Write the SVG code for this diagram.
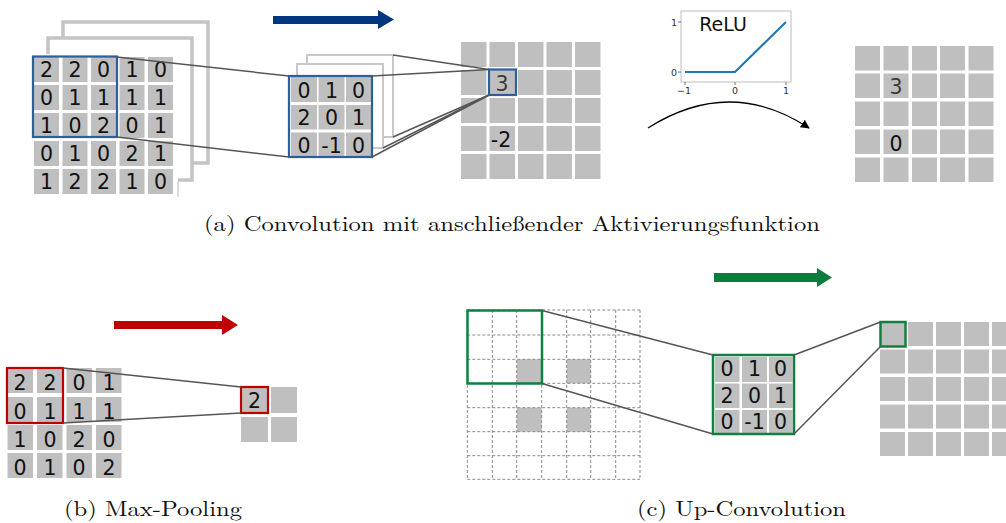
<svg xmlns="http://www.w3.org/2000/svg" width="1006" height="523" viewBox="0 0 1006 523">
  <style>
    .cell { fill: #bfbfbf; }
    .frame { fill: #ffffff; stroke: #c4c4c4; stroke-width: 3.5; }
    .kframe { fill: #ffffff; stroke: #c8c8c8; stroke-width: 2; }
    .num { font-family: "DejaVu Sans", Verdana, sans-serif; font-size: 20.5px; fill: #111; text-anchor: middle; }
    .dim { fill: #3a3a3a; }
    .conn { stroke: #555; stroke-width: 1.5; fill: none; }
    .blue { fill: none; stroke: #2f5e9e; stroke-width: 2.2; }
    .red { fill: none; stroke: #c00000; stroke-width: 2.2; }
    .green { fill: none; stroke: #108040; stroke-width: 2.5; }
    .dash { stroke: #8a8a8a; stroke-width: 1; stroke-dasharray: 3 2; fill: none; }
    .cap { font-family: "Latin Modern Roman", "Liberation Serif", serif; font-size: 21px; fill: #111; }
    .tick { font-family: "DejaVu Sans", sans-serif; font-size: 9.5px; fill: #333; text-anchor: middle; }
  </style>
  <defs>
    <marker id="tip" viewBox="0 0 10 10" refX="9" refY="5" markerWidth="9" markerHeight="9" markerUnits="userSpaceOnUse" orient="auto">
      <path d="M0,0 L10,5 L0,10 z" fill="#000"/>
    </marker>
  </defs>

  <!-- (a) input volume with two channels behind -->
  <g id="input-volume">
    <rect class="frame" x="63" y="22" width="145" height="141"/>
    <rect class="frame" x="48" y="38" width="144" height="142"/>
    <rect x="26" y="54" width="152" height="146" fill="#fff"/>
    <line x1="178" y1="181" x2="178" y2="197" stroke="#d0d0d0" stroke-width="1.5"/>
    <g>
      <rect class="cell" x="34" y="57" width="25" height="25"/><rect class="cell" x="62.5" y="57" width="25" height="25"/><rect class="cell" x="91" y="57" width="25" height="25"/><rect class="cell" x="119.5" y="57" width="25" height="25"/><rect class="cell" x="148" y="57" width="25" height="25"/>
      <rect class="cell" x="34" y="85" width="25" height="25"/><rect class="cell" x="62.5" y="85" width="25" height="25"/><rect class="cell" x="91" y="85" width="25" height="25"/><rect class="cell" x="119.5" y="85" width="25" height="25"/><rect class="cell" x="148" y="85" width="25" height="25"/>
      <rect class="cell" x="34" y="113" width="25" height="25"/><rect class="cell" x="62.5" y="113" width="25" height="25"/><rect class="cell" x="91" y="113" width="25" height="25"/><rect class="cell" x="119.5" y="113" width="25" height="25"/><rect class="cell" x="148" y="113" width="25" height="25"/>
      <rect class="cell" x="34" y="141" width="25" height="25"/><rect class="cell" x="62.5" y="141" width="25" height="25"/><rect class="cell" x="91" y="141" width="25" height="25"/><rect class="cell" x="119.5" y="141" width="25" height="25"/><rect class="cell" x="148" y="141" width="25" height="25"/>
      <rect class="cell" x="34" y="169" width="25" height="25"/><rect class="cell" x="62.5" y="169" width="25" height="25"/><rect class="cell" x="91" y="169" width="25" height="25"/><rect class="cell" x="119.5" y="169" width="25" height="25"/><rect class="cell" x="148" y="169" width="25" height="25"/>
    </g>
    <g class="num">
      <text x="46.5" y="77">2</text><text x="75" y="77">2</text><text x="103.5" y="77">0</text><text x="132" y="77">1</text><text x="160.5" y="77">0</text>
      <text x="46.5" y="105">0</text><text x="75" y="105">1</text><text x="103.5" y="105">1</text><text x="132" y="105">1</text><text x="160.5" y="105">1</text>
      <text x="46.5" y="133">1</text><text x="75" y="133">0</text><text x="103.5" y="133">2</text><text x="132" y="133">0</text><text x="160.5" y="133">1</text>
      <text x="46.5" y="161">0</text><text x="75" y="161">1</text><text x="103.5" y="161">0</text><text x="132" y="161">2</text><text x="160.5" y="161">1</text>
      <text x="46.5" y="189">1</text><text x="75" y="189">2</text><text x="103.5" y="189">2</text><text x="132" y="189">1</text><text x="160.5" y="189">0</text>
    </g>
    <rect class="blue" x="33" y="56.5" width="84" height="80.5"/>
  </g>

  <!-- (a) kernel stack -->
  <g id="conv-kernel">
    <rect class="kframe" x="307" y="55" width="86" height="82"/>
    <rect class="kframe" x="297" y="64" width="86" height="84"/>
    <rect x="289" y="76" width="83" height="81" fill="#fff"/>
    <rect class="cell" x="291" y="77" width="26" height="25"/><rect class="cell" x="318.5" y="77" width="26" height="25"/><rect class="cell" x="346" y="77" width="25" height="25"/>
    <rect class="cell" x="291" y="105" width="26" height="24.5"/><rect class="cell" x="318.5" y="105" width="26" height="24.5"/><rect class="cell" x="346" y="105" width="25" height="24.5"/>
    <rect class="cell" x="291" y="132.5" width="26" height="24.5"/><rect class="cell" x="318.5" y="132.5" width="26" height="24.5"/><rect class="cell" x="346" y="132.5" width="25" height="24.5"/>
    <g class="num">
      <text x="304" y="97.5">0</text><text x="331.5" y="97.5">1</text><text x="358.5" y="97.5">0</text>
      <text x="304" y="125">2</text><text x="331.5" y="125">0</text><text x="358.5" y="125">1</text>
      <text x="304" y="153">0</text><text x="331.5" y="153">-1</text><text x="358.5" y="153">0</text>
    </g>
    <rect class="blue" x="289" y="76" width="83" height="81"/>
  </g>

  <!-- (a) feature map -->
  <g id="feature-map">
    <rect class="cell" x="461" y="42" width="25.5" height="25"/><rect class="cell" x="489.5" y="42" width="25.5" height="25"/><rect class="cell" x="518" y="42" width="25.5" height="25"/><rect class="cell" x="546.5" y="42" width="25.5" height="25"/><rect class="cell" x="575" y="42" width="25.5" height="25"/>
    <rect class="cell" x="461" y="70" width="25.5" height="25"/><rect class="cell" x="489.5" y="70" width="25.5" height="25"/><rect class="cell" x="518" y="70" width="25.5" height="25"/><rect class="cell" x="546.5" y="70" width="25.5" height="25"/><rect class="cell" x="575" y="70" width="25.5" height="25"/>
    <rect class="cell" x="461" y="98" width="25.5" height="25"/><rect class="cell" x="489.5" y="98" width="25.5" height="25"/><rect class="cell" x="518" y="98" width="25.5" height="25"/><rect class="cell" x="546.5" y="98" width="25.5" height="25"/><rect class="cell" x="575" y="98" width="25.5" height="25"/>
    <rect class="cell" x="461" y="126" width="25.5" height="25"/><rect class="cell" x="489.5" y="126" width="25.5" height="25"/><rect class="cell" x="518" y="126" width="25.5" height="25"/><rect class="cell" x="546.5" y="126" width="25.5" height="25"/><rect class="cell" x="575" y="126" width="25.5" height="25"/>
    <rect class="cell" x="461" y="154" width="25.5" height="25"/><rect class="cell" x="489.5" y="154" width="25.5" height="25"/><rect class="cell" x="518" y="154" width="25.5" height="25"/><rect class="cell" x="546.5" y="154" width="25.5" height="25"/><rect class="cell" x="575" y="154" width="25.5" height="25"/>
    <text class="num dim" x="502" y="91">3</text>
    <text class="num" x="501" y="147">-2</text>
    <rect class="blue" x="489" y="69.5" width="27" height="25.5"/>
  </g>

  <!-- (a) ReLU plot -->
  <g id="relu-plot">
    <rect x="681" y="11" width="110" height="71" fill="#fff" stroke="#bdbdbd" stroke-width="1"/>
    <text x="723" y="31" font-family="'DejaVu Sans', sans-serif" font-size="19" text-anchor="middle" fill="#111">ReLU</text>
    <polyline points="685,72 735,72 786,22" fill="none" stroke="#1f77b4" stroke-width="2.2"/>
    <g stroke="#555" stroke-width="0.8">
      <line x1="678" y1="22" x2="681" y2="22"/><line x1="678" y1="72" x2="681" y2="72"/>
      <line x1="685" y1="82" x2="685" y2="85"/><line x1="735" y1="82" x2="735" y2="85"/><line x1="786" y1="82" x2="786" y2="85"/>
    </g>
    <text class="tick" x="674" y="26">1</text>
    <text class="tick" x="674" y="76">0</text>
    <text class="tick" x="684" y="94">−1</text>
    <text class="tick" x="735" y="94">0</text>
    <text class="tick" x="786" y="94">1</text>
  </g>

  <!-- (a) activated map -->
  <g id="activated-map">
    <rect class="cell" x="855" y="46" width="25" height="24.5"/><rect class="cell" x="883.5" y="46" width="25" height="24.5"/><rect class="cell" x="912" y="46" width="25" height="24.5"/><rect class="cell" x="940" y="46" width="25" height="24.5"/><rect class="cell" x="968.5" y="46" width="25" height="24.5"/>
    <rect class="cell" x="855" y="73.5" width="25" height="24.5"/><rect class="cell" x="883.5" y="73.5" width="25" height="24.5"/><rect class="cell" x="912" y="73.5" width="25" height="24.5"/><rect class="cell" x="940" y="73.5" width="25" height="24.5"/><rect class="cell" x="968.5" y="73.5" width="25" height="24.5"/>
    <rect class="cell" x="855" y="101.5" width="25" height="24.5"/><rect class="cell" x="883.5" y="101.5" width="25" height="24.5"/><rect class="cell" x="912" y="101.5" width="25" height="24.5"/><rect class="cell" x="940" y="101.5" width="25" height="24.5"/><rect class="cell" x="968.5" y="101.5" width="25" height="24.5"/>
    <rect class="cell" x="855" y="129.5" width="25" height="24.5"/><rect class="cell" x="883.5" y="129.5" width="25" height="24.5"/><rect class="cell" x="912" y="129.5" width="25" height="24.5"/><rect class="cell" x="940" y="129.5" width="25" height="24.5"/><rect class="cell" x="968.5" y="129.5" width="25" height="24.5"/>
    <rect class="cell" x="855" y="157.5" width="25" height="24.5"/><rect class="cell" x="883.5" y="157.5" width="25" height="24.5"/><rect class="cell" x="912" y="157.5" width="25" height="24.5"/><rect class="cell" x="940" y="157.5" width="25" height="24.5"/><rect class="cell" x="968.5" y="157.5" width="25" height="24.5"/>
    <text class="num dim" x="896" y="94">3</text>
    <text class="num" x="896" y="150.5">0</text>
  </g>

  <!-- (b) pooling input -->
  <g id="pool-input">
    <rect class="cell" x="7.5" y="368" width="25.5" height="25"/><rect class="cell" x="37" y="368" width="25.5" height="25"/><rect class="cell" x="66.5" y="368" width="25.5" height="25"/><rect class="cell" x="96" y="368" width="25.5" height="25"/>
    <rect class="cell" x="7.5" y="397" width="25.5" height="25"/><rect class="cell" x="37" y="397" width="25.5" height="25"/><rect class="cell" x="66.5" y="397" width="25.5" height="25"/><rect class="cell" x="96" y="397" width="25.5" height="25"/>
    <rect class="cell" x="7.5" y="425" width="25.5" height="25"/><rect class="cell" x="37" y="425" width="25.5" height="25"/><rect class="cell" x="66.5" y="425" width="25.5" height="25"/><rect class="cell" x="96" y="425" width="25.5" height="25"/>
    <rect class="cell" x="7.5" y="453" width="25.5" height="25"/><rect class="cell" x="37" y="453" width="25.5" height="25"/><rect class="cell" x="66.5" y="453" width="25.5" height="25"/><rect class="cell" x="96" y="453" width="25.5" height="25"/>
    <g class="num">
      <text x="20" y="390">2</text><text x="50" y="390">2</text><text x="79" y="390">0</text><text x="109" y="390">1</text>
      <text x="20" y="419">0</text><text x="50" y="419">1</text><text x="79" y="419">1</text><text x="109" y="419">1</text>
      <text x="20" y="447">1</text><text x="50" y="447">0</text><text x="79" y="447">2</text><text x="109" y="447">0</text>
      <text x="20" y="475">0</text><text x="50" y="475">1</text><text x="79" y="475">0</text><text x="109" y="475">2</text>
    </g>
    <rect class="red" x="7" y="368" width="56" height="55"/>
  </g>

  <!-- (b) pooling output -->
  <g id="pool-output">
    <rect class="cell" x="241" y="387" width="27" height="26"/>
    <rect class="cell" x="271" y="387" width="26" height="26"/>
    <rect class="cell" x="241" y="417" width="27" height="25"/>
    <rect class="cell" x="271" y="417" width="26" height="25"/>
    <text class="num" x="254.5" y="408" font-size="16">2</text>
    <rect class="red" x="241" y="387" width="27" height="26"/>
  </g>

  <!-- (c) zero-padded, upsampled input -->
  <g id="upsampled-input">
    <rect class="cell" x="516.7" y="359.3" width="25" height="24"/>
    <rect class="cell" x="566.7" y="359.3" width="24" height="24"/>
    <rect class="cell" x="516.7" y="407.7" width="25" height="24"/>
    <rect class="cell" x="566.7" y="407.7" width="24" height="24"/>
    <path class="dash" d="M467.3,310V479.3M492.3,310V479.3M516.7,310V479.3M541.7,310V479.3M566.7,310V479.3M590.7,310V479.3M615.7,310V479.3M640,310V479.3
      M467.3,310H640M467.3,335H640M467.3,359.3H640M467.3,383.3H640M467.3,407.7H640M467.3,431.7H640M467.3,455.7H640M467.3,479.3H640"/>
    <rect class="green" x="467.5" y="310.5" width="74.5" height="73"/>
  </g>

  <!-- (c) kernel -->
  <g id="upconv-kernel">
    <rect x="713" y="355" width="81" height="79" fill="#fff"/>
    <rect class="cell" x="715" y="357" width="24.5" height="25"/><rect class="cell" x="742" y="357" width="25" height="25"/><rect class="cell" x="769" y="357" width="23.5" height="25"/>
    <rect class="cell" x="715" y="383.5" width="24.5" height="24.5"/><rect class="cell" x="742" y="383.5" width="25" height="24.5"/><rect class="cell" x="769" y="383.5" width="23.5" height="24.5"/>
    <rect class="cell" x="715" y="410" width="24.5" height="23"/><rect class="cell" x="742" y="410" width="25" height="23"/><rect class="cell" x="769" y="410" width="23.5" height="23"/>
    <g class="num">
      <text x="727" y="376">0</text><text x="754.5" y="376">1</text><text x="780.5" y="376">0</text>
      <text x="727" y="402.5">2</text><text x="754.5" y="402.5">0</text><text x="780.5" y="402.5">1</text>
      <text x="727" y="429">0</text><text x="754.5" y="429">-1</text><text x="780.5" y="429">0</text>
    </g>
    <rect class="green" x="713" y="355" width="81" height="79"/>
  </g>

  <!-- (c) output map -->
  <g id="upconv-output">
    <rect class="cell" x="880" y="322" width="25" height="24"/><rect class="cell" x="908" y="322" width="25" height="24"/><rect class="cell" x="936" y="322" width="25" height="24"/><rect class="cell" x="964" y="322" width="25" height="24"/><rect class="cell" x="992" y="322" width="25" height="24"/>
    <rect class="cell" x="880" y="349.5" width="25" height="24"/><rect class="cell" x="908" y="349.5" width="25" height="24"/><rect class="cell" x="936" y="349.5" width="25" height="24"/><rect class="cell" x="964" y="349.5" width="25" height="24"/><rect class="cell" x="992" y="349.5" width="25" height="24"/>
    <rect class="cell" x="880" y="377" width="25" height="24"/><rect class="cell" x="908" y="377" width="25" height="24"/><rect class="cell" x="936" y="377" width="25" height="24"/><rect class="cell" x="964" y="377" width="25" height="24"/><rect class="cell" x="992" y="377" width="25" height="24"/>
    <rect class="cell" x="880" y="404.5" width="25" height="24"/><rect class="cell" x="908" y="404.5" width="25" height="24"/><rect class="cell" x="936" y="404.5" width="25" height="24"/><rect class="cell" x="964" y="404.5" width="25" height="24"/><rect class="cell" x="992" y="404.5" width="25" height="24"/>
    <rect class="cell" x="880" y="432" width="25" height="24"/><rect class="cell" x="908" y="432" width="25" height="24"/><rect class="cell" x="936" y="432" width="25" height="24"/><rect class="cell" x="964" y="432" width="25" height="24"/><rect class="cell" x="992" y="432" width="25" height="24"/>
    <rect class="green" x="880.5" y="322" width="25" height="24.5"/>
  </g>

  <!-- connectors and direction arrows -->
  <g id="connectors">
    <line class="conn" x1="117" y1="57" x2="289" y2="76"/>
    <line class="conn" x1="117" y1="137" x2="289" y2="157"/>
    <line class="conn" x1="372" y1="76" x2="489" y2="69.5"/>
    <line class="conn" x1="393" y1="55" x2="489" y2="69.5"/>
    <line class="conn" x1="372" y1="157" x2="489" y2="95"/>
    <line class="conn" x1="383" y1="148" x2="489" y2="95"/>
    <line class="conn" x1="393" y1="137" x2="489" y2="95"/>
    <path d="M648,128 Q730,76 809,128" fill="none" stroke="#000" stroke-width="1.3" marker-end="url(#tip)"/>
    <line class="conn" x1="63" y1="368" x2="241" y2="387"/>
    <line class="conn" x1="63" y1="423" x2="241" y2="413"/>
    <line class="conn" x1="542" y1="310.5" x2="713" y2="355"/>
    <line class="conn" x1="542" y1="383.5" x2="713" y2="434"/>
    <line class="conn" x1="794" y1="355" x2="880.5" y2="322"/>
    <line class="conn" x1="794" y1="434" x2="880.5" y2="346.5"/>
    <path d="M273,16 H378 V10 L394,19.5 L378,29 V24 H273 z" fill="#00367f"/>
    <path d="M114,321 H222 V315 L238,325 L222,335 V329 H114 z" fill="#c00000"/>
    <path d="M714,273 H817 V268 L832,277.5 L817,287 V282 H714 z" fill="#0a7d3a"/>
  </g>

  <!-- captions -->
  <text class="cap" x="204" y="231" textLength="616" lengthAdjust="spacingAndGlyphs">(a)  Convolution mit anschließender Aktivierungsfunktion</text>
  <text class="cap" x="64" y="516" textLength="178" lengthAdjust="spacingAndGlyphs">(b)  Max-Pooling</text>
  <text class="cap" x="637" y="516" textLength="209" lengthAdjust="spacingAndGlyphs">(c)  Up-Convolution</text>
</svg>
